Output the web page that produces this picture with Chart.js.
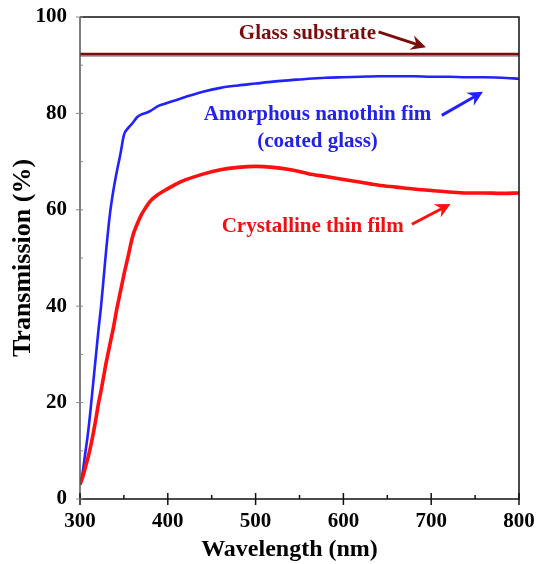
<!DOCTYPE html>
<html>
<head>
<meta charset="utf-8">
<script src="https://cdn.jsdelivr.net/npm/chart.js@4.4.1/dist/chart.umd.min.js"></script>
<style>
  html, body { margin: 0; padding: 0; background: #fff; }
  #wrap { width: 538px; height: 564px; position: relative; }
</style>
</head>
<body>
<div id="wrap"><canvas id="c" width="538" height="564"></canvas></div>
<script>
// ---- data ----
const wavelength = [300, 303, 306, 309, 312, 315, 318, 321, 324, 327, 330, 334, 338, 342, 346, 350, 355, 360, 365, 370, 375, 380, 390, 400, 410, 420, 440, 460, 480, 500, 520, 540, 560, 580, 600, 620, 640, 660, 680, 700, 720, 740, 760, 780, 800];
const amorphous = [3.0, 5.5, 9.5, 13.5, 18.5, 24.0, 29.5, 35.0, 40.0, 46.0, 52.0, 59.0, 64.0, 68.0, 71.5, 75.5, 77.0, 78.0, 79.2, 79.8, 80.1, 80.5, 81.6, 82.2, 82.8, 83.4, 84.5, 85.3, 85.8, 86.2, 86.6, 86.9, 87.2, 87.4, 87.5, 87.6, 87.7, 87.7, 87.7, 87.6, 87.6, 87.5, 87.5, 87.4, 87.2];
const crystalline = [3.0, 4.5, 6.5, 8.5, 10.8, 13.5, 16.5, 19.8, 22.5, 25.5, 28.5, 32.0, 35.5, 39.5, 43.0, 46.5, 50.5, 54.5, 57.0, 59.0, 60.5, 61.8, 63.3, 64.4, 65.4, 66.2, 67.4, 68.3, 68.8, 69.0, 68.8, 68.3, 67.5, 66.9, 66.3, 65.7, 65.1, 64.7, 64.3, 64.0, 63.7, 63.5, 63.5, 63.4, 63.5];
const glassWavelength = [300, 800];
const glassSubstrate = [92.3, 92.3];
const xTickValues = [300, 400, 500, 600, 700, 800];
const yTickValues = [0, 20, 40, 60, 80, 100];
const labels = {
  glass: 'Glass substrate',
  amorphous1: 'Amorphous nanothin fim',
  amorphous2: '(coated glass)',
  crystalline: 'Crystalline thin film',
  xTitle: 'Wavelength (nm)',
  yTitle: 'Transmission (%)'
};

// ---- styling / layout ----
const SERIF = '"Liberation Serif", "Times New Roman", serif';
const colors = { glass: '#7a0c0c', blue: '#2222ff', red: '#ff0f0f', blueText: '#2222e8', redText: '#f01010' };
const AREA = { left: 80, top: 17, right: 519, bottom: 499 };

// annotations, anchored in data coordinates
const notes = [
  { text: labels.glass, x: 559, y: 96.6, color: colors.glass },
  { text: labels.amorphous1, x: 570.5, y: 79.8, color: colors.blueText },
  { text: labels.amorphous2, x: 570.5, y: 74.2, color: colors.blueText },
  { text: labels.crystalline, x: 565, y: 56.6, color: colors.redText }
];
const arrows = [
  { from: [640, 96.9], to: [694, 93.7], color: colors.glass },
  { from: [712, 79.6], to: [759, 84.5], color: colors.blue },
  { from: [678, 57.0], to: [722, 61.2], color: colors.red }
];

const toXY = (xs, ys) => xs.map((x, i) => ({ x, y: ys[i] }));

// pin the plot area to the reference frame
const areaPlugin = {
  id: 'area',
  afterLayout(chart) {
    const { x, y } = chart.scales;
    const ca = chart.chartArea;
    ca.left = AREA.left; ca.right = AREA.right; ca.top = AREA.top; ca.bottom = AREA.bottom;
    ca.width = ca.right - ca.left; ca.height = ca.bottom - ca.top;
    x.left = AREA.left; x.right = AREA.right; x.width = AREA.right - AREA.left;
    x.top = AREA.bottom; x.bottom = chart.height; x.height = x.bottom - x.top;
    y.top = AREA.top; y.bottom = AREA.bottom; y.height = AREA.bottom - AREA.top;
    y.left = 0; y.right = AREA.left; y.width = AREA.left;
    x.configure(); y.configure();
    x._labelItems = null; y._labelItems = null;
  }
};

const decorPlugin = {
  id: 'decor',
  afterDatasetsDraw(chart) {
    const { ctx, chartArea: a, scales: { x, y } } = chart;
    ctx.save();
    // frame
    ctx.strokeStyle = '#111';
    ctx.lineWidth = 1.5;
    ctx.beginPath();
    ctx.moveTo(a.left, a.top); ctx.lineTo(a.right, a.top); ctx.lineTo(a.right, a.bottom); ctx.lineTo(a.left, a.bottom);
    ctx.stroke();
    ctx.strokeStyle = '#555';
    ctx.beginPath(); ctx.moveTo(a.left, a.top); ctx.lineTo(a.left, a.bottom); ctx.stroke();

    // x ticks
    ctx.strokeStyle = '#111';
    ctx.lineWidth = 1.5;
    for (let v = 300; v <= 800; v += 50) {
      const px = x.getPixelForValue(v);
      const major = v % 100 === 0;
      ctx.beginPath();
      ctx.moveTo(px, a.bottom - (major ? 6 : 4));
      ctx.lineTo(px, a.bottom + (major ? 6 : 0));
      ctx.stroke();
    }
    // y ticks
    ctx.strokeStyle = '#888';
    ctx.lineWidth = 1;
    for (let v = 0; v <= 100; v += 10) {
      const py = y.getPixelForValue(v);
      const major = v % 20 === 0;
      ctx.beginPath();
      ctx.moveTo(a.left - (major ? 4 : 0), py);
      ctx.lineTo(a.left + 3, py);
      ctx.stroke();
    }

    // x axis title (reference places it slightly left of centre)
    ctx.fillStyle = '#000';
    ctx.font = 'bold 24px ' + SERIF;
    ctx.textAlign = 'center';
    ctx.textBaseline = 'middle';
    ctx.fillText(labels.xTitle, (a.left + a.right) / 2 - 10, chart.height - 14);

    // annotation texts
    ctx.font = 'bold 21px ' + SERIF;
    notes.forEach(n => {
      ctx.fillStyle = n.color;
      ctx.fillText(n.text, x.getPixelForValue(n.x), y.getPixelForValue(n.y));
    });

    // arrows
    arrows.forEach(ar => {
      const x0 = x.getPixelForValue(ar.from[0]), y0 = y.getPixelForValue(ar.from[1]);
      const x1 = x.getPixelForValue(ar.to[0]), y1 = y.getPixelForValue(ar.to[1]);
      const ang = Math.atan2(y1 - y0, x1 - x0);
      const L = 15, W = 7.5;
      const bx = x1 - L * Math.cos(ang), by = y1 - L * Math.sin(ang);
      ctx.strokeStyle = ar.color;
      ctx.fillStyle = ar.color;
      ctx.lineWidth = 3;
      ctx.beginPath(); ctx.moveTo(x0, y0); ctx.lineTo(x1 - 8 * Math.cos(ang), y1 - 8 * Math.sin(ang)); ctx.stroke();
      ctx.beginPath();
      ctx.moveTo(x1, y1);
      ctx.lineTo(bx + W * Math.sin(ang), by - W * Math.cos(ang));
      ctx.lineTo(x1 - (L - 5) * Math.cos(ang), y1 - (L - 5) * Math.sin(ang));
      ctx.lineTo(bx - W * Math.sin(ang), by + W * Math.cos(ang));
      ctx.closePath();
      ctx.fill();
    });
    ctx.restore();
  }
};

new Chart(document.getElementById('c'), {
  type: 'line',
  data: {
    datasets: [
      { label: 'Glass shadow', data: toXY(glassWavelength, glassSubstrate.map(v => v - 0.45)), borderColor: '#b8a8a8', borderWidth: 1.5, pointRadius: 0, order: 4 },
      { label: labels.glass, data: toXY(glassWavelength, glassSubstrate), borderColor: colors.glass, borderWidth: 2.8, pointRadius: 0, order: 3 },
      { label: labels.amorphous1, data: toXY(wavelength, amorphous), borderColor: colors.blue, borderWidth: 2.6, pointRadius: 0, cubicInterpolationMode: 'monotone', order: 2 },
      { label: labels.crystalline, data: toXY(wavelength, crystalline), borderColor: colors.red, borderWidth: 3.6, pointRadius: 0, cubicInterpolationMode: 'monotone', order: 1 }
    ]
  },
  options: {
    responsive: false,
    animation: false,
    layout: { padding: 0 },
    plugins: { legend: { display: false }, tooltip: { enabled: false } },
    scales: {
      x: {
        type: 'linear', min: 300, max: 800,
        afterBuildTicks: s => { s.ticks = xTickValues.map(v => ({ value: v })); },
        grid: { display: false, drawTicks: false },
        border: { display: false },
        ticks: { color: '#000', padding: 10, font: { family: SERIF, size: 21, weight: 'bold' } },
        title: { display: false }
      },
      y: {
        min: 0, max: 100,
        afterBuildTicks: s => { s.ticks = yTickValues.map(v => ({ value: v })); },
        grid: { display: false, drawTicks: false },
        border: { display: false },
        ticks: { color: '#000', padding: 13, font: { family: SERIF, size: 21, weight: 'bold' } },
        title: { display: true, text: labels.yTitle, color: '#000', padding: { top: 8, bottom: 0 }, font: { family: SERIF, size: 26, weight: 'bold' } }
      }
    }
  },
  plugins: [areaPlugin, decorPlugin]
});
</script>
</body>
</html>
